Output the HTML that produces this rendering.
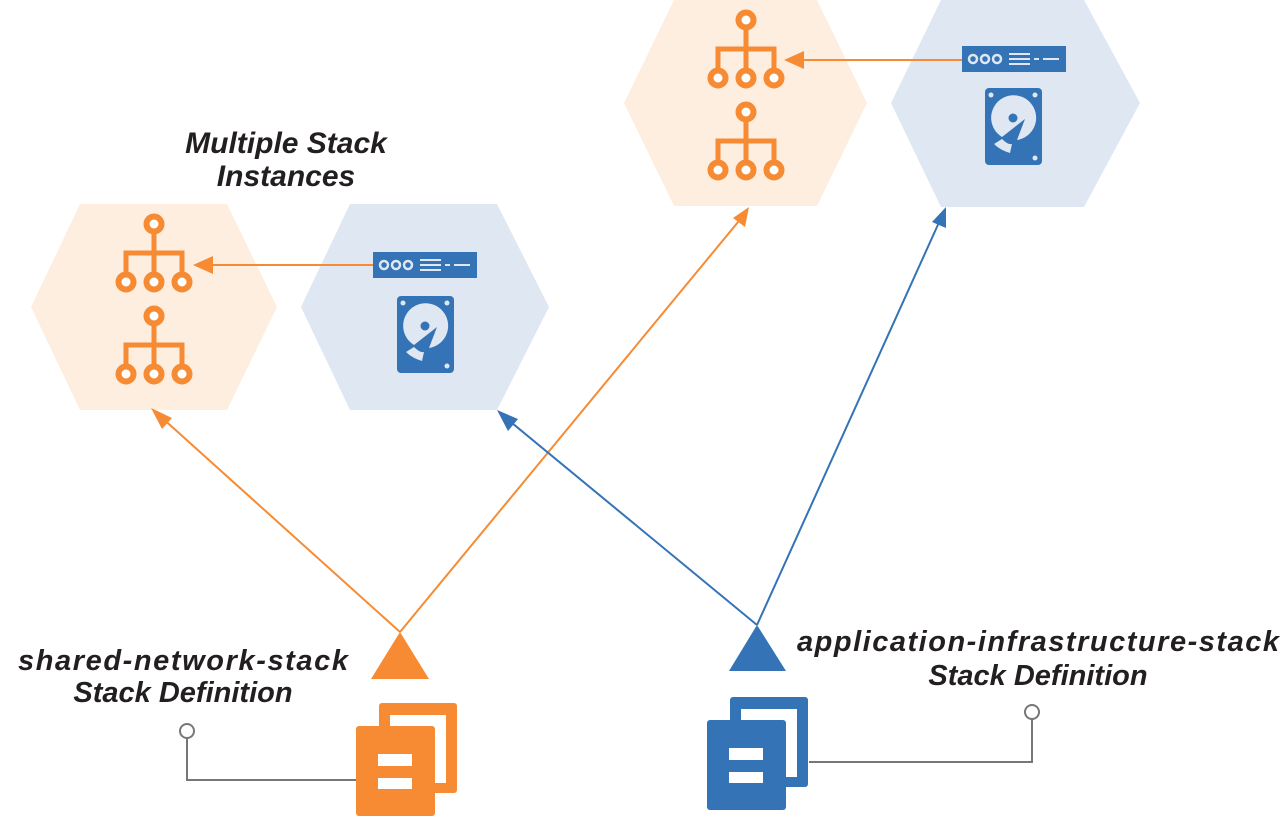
<!DOCTYPE html>
<html><head><meta charset="utf-8"><style>
html,body{margin:0;padding:0;background:#fff}
svg{display:block}
text{font-family:"Liberation Sans",sans-serif;font-style:italic;font-weight:bold;fill:#231f20}
</style></head><body>
<svg width="1286" height="817" viewBox="0 0 1286 817" xmlns="http://www.w3.org/2000/svg">
<defs>
<g id="net">
  <path d="M0 8 V29 M-28 58 V29 H28 V58 M0 29 V58" stroke="#f68b33" stroke-width="5" fill="none"/>
  <circle cx="0" cy="0" r="7.5" fill="#fff" stroke="#f68b33" stroke-width="6"/>
  <circle cx="-28" cy="58" r="7.5" fill="#fff" stroke="#f68b33" stroke-width="6"/>
  <circle cx="0" cy="58" r="7.5" fill="#fff" stroke="#f68b33" stroke-width="6"/>
  <circle cx="28" cy="58" r="7.5" fill="#fff" stroke="#f68b33" stroke-width="6"/>
</g>
<g id="srv">
  <rect x="0" y="0" width="104" height="26" fill="#3473b5"/>
  <g fill="none" stroke="#dfe7f2" stroke-width="2.5">
    <circle cx="11" cy="13" r="4"/><circle cx="23" cy="13" r="4"/><circle cx="35" cy="13" r="4"/>
  </g>
  <g stroke="#dfe7f2" stroke-width="2">
    <path d="M47 8 H68 M47 13 H68 M47 18 H68 M72 13 H77 M81 13 H97"/>
  </g>
</g>
<g id="disk">
  <rect x="0" y="0" width="57" height="77" rx="4" fill="#3473b5"/>
  <circle cx="6" cy="7" r="2.5" fill="#dfe7f2"/><circle cx="50" cy="7" r="2.5" fill="#dfe7f2"/><circle cx="50" cy="70" r="2.5" fill="#dfe7f2"/>
  <path d="M17 49 A22.5 22.5 0 1 1 32 52 L40 31 Z" fill="#dfe7f2"/>
  <circle cx="28" cy="30" r="4.5" fill="#3473b5"/>
  <path d="M9 56 L17 51 Q23 57 27 56 L25 65 Q15 62 9 56 Z" fill="#dfe7f2"/>
</g>
<g id="doc">
  <rect x="23" y="0" width="78" height="90" rx="3"/>
  <rect x="34" y="12" width="56" height="68" fill="#fff"/>
  <rect x="0" y="23" width="79" height="90" rx="3"/>
  <rect x="22" y="51" width="34" height="12" fill="#fff"/>
  <rect x="22" y="75" width="34" height="11" fill="#fff"/>
</g>
</defs>

<polygon points="674,0 817,0 867,103 817,206 674,206 624,103" fill="#fdeee0"/>
<polygon points="941,0 1084,0 1140,103 1084,207 941,207 891,103" fill="#dfe7f2"/>
<polygon points="80,204 227,204 277,307 227,410 80,410 31,307" fill="#fdeee0"/>
<polygon points="350,204 497,204 549,307 497,410 350,410 301,307" fill="#dfe7f2"/>

<use href="#net" x="746" y="20"/>
<use href="#net" x="746" y="112"/>
<use href="#net" x="154" y="224"/>
<use href="#net" x="154" y="316"/>
<use href="#srv" x="962" y="46"/>
<use href="#srv" x="373" y="252"/>
<use href="#disk" x="985" y="88"/>
<use href="#disk" x="397" y="296"/>

<line x1="962" y1="60" x2="800" y2="60" stroke="#f68b33" stroke-width="2"/>
<polygon points="784,60 804,51 804,69" fill="#f68b33"/>
<line x1="373" y1="265" x2="210" y2="265" stroke="#f68b33" stroke-width="2"/>
<polygon points="193,265 213,256 213,274" fill="#f68b33"/>

<g stroke-width="2" fill="none">
<line x1="400" y1="632" x2="160" y2="416" stroke="#f68b33"/>
<line x1="400" y1="632" x2="743" y2="216" stroke="#f68b33"/>
<line x1="757" y1="625" x2="506" y2="418" stroke="#3473b5"/>
<line x1="757" y1="625" x2="941" y2="218" stroke="#3473b5"/>
</g>
<polygon points="151,408 172,418 162,429" fill="#f68b33"/>
<polygon points="749,207 745,227 733,218" fill="#f68b33"/>
<polygon points="497,410 518,419 508,431" fill="#3473b5"/>
<polygon points="946,207 946,228 932,222" fill="#3473b5"/>

<polygon points="400,632 429,679 371,679" fill="#f68b33"/>
<polygon points="757,625 786,671 729,671" fill="#3473b5"/>

<path d="M187 738 V780 H356" stroke="#777" stroke-width="2" fill="none"/>
<circle cx="187" cy="731" r="7" fill="#fff" stroke="#777" stroke-width="2"/>
<path d="M1032 719 V762 H809" stroke="#777" stroke-width="2" fill="none"/>
<circle cx="1032" cy="712" r="7" fill="#fff" stroke="#777" stroke-width="2"/>

<use href="#doc" x="356" y="703" fill="#f68b33"/>
<use href="#doc" x="707" y="697" fill="#3473b5"/>

<text x="286" y="153" font-size="30" text-anchor="middle">Multiple Stack</text>
<text x="286" y="186" font-size="30" text-anchor="middle">Instances</text>
<text x="183" y="670" font-size="29" text-anchor="middle" textLength="330">shared-network-stack</text>
<text x="183" y="702" font-size="29" text-anchor="middle">Stack Definition</text>
<text x="1038" y="651" font-size="29" text-anchor="middle" textLength="482">application-infrastructure-stack</text>
<text x="1038" y="685" font-size="29" text-anchor="middle">Stack Definition</text>
</svg>
</body></html>
